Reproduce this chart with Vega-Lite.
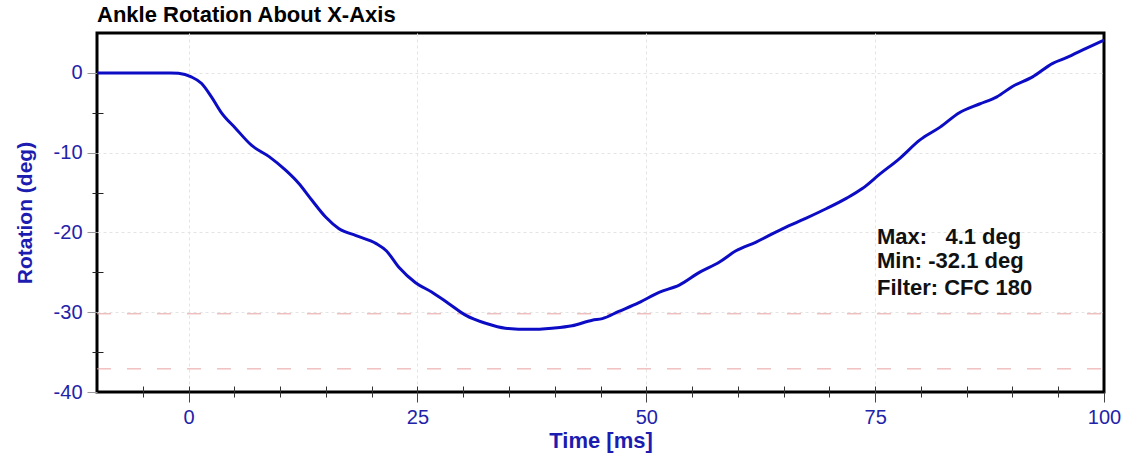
{
  "$schema": "https://vega.github.io/schema/vega-lite/v6.json",
  "width": 1007,
  "height": 359,
  "autosize": "none",
  "padding": {"left": 97, "top": 33, "right": 25, "bottom": 67},
  "background": "white",
  "config": {
    "view": {"stroke": "black", "strokeWidth": 3},
    "font": "Liberation Sans"
  },
  "title": {
    "text": "Ankle Rotation About X-Axis",
    "anchor": "start",
    "frame": "group",
    "font": "Liberation Sans",
    "fontSize": 22,
    "fontWeight": "bold",
    "color": "black",
    "offset": 6
  },
  "datasets": {
    "curve": [
      {"t": -10, "r": 0}, {"t": -6, "r": 0}, {"t": -2, "r": 0}, {"t": -1.1, "r": -0.05},
      {"t": 0.3, "r": -0.5}, {"t": 1.4, "r": -1.3}, {"t": 2.5, "r": -3}, {"t": 3.6, "r": -5},
      {"t": 5.1, "r": -6.9}, {"t": 6.9, "r": -9.1}, {"t": 8.8, "r": -10.5}, {"t": 10.6, "r": -12.2},
      {"t": 12, "r": -13.8}, {"t": 13.5, "r": -16}, {"t": 15, "r": -18.1}, {"t": 16.4, "r": -19.5},
      {"t": 18.3, "r": -20.4}, {"t": 20.5, "r": -21.4}, {"t": 21.6, "r": -22.3}, {"t": 23, "r": -24.4},
      {"t": 24.8, "r": -26.3}, {"t": 26.6, "r": -27.5}, {"t": 28.4, "r": -28.9}, {"t": 30.3, "r": -30.4},
      {"t": 32.5, "r": -31.4}, {"t": 34.6, "r": -32}, {"t": 37.2, "r": -32.15}, {"t": 39.7, "r": -32},
      {"t": 41.9, "r": -31.7}, {"t": 44.1, "r": -31}, {"t": 45.2, "r": -30.8}, {"t": 47, "r": -29.9},
      {"t": 49.2, "r": -28.8}, {"t": 51.4, "r": -27.5}, {"t": 53.6, "r": -26.6}, {"t": 55.8, "r": -25},
      {"t": 58, "r": -23.7}, {"t": 59.8, "r": -22.3}, {"t": 62, "r": -21.2}, {"t": 64.6, "r": -19.7},
      {"t": 67.1, "r": -18.4}, {"t": 69.7, "r": -17}, {"t": 71.9, "r": -15.7}, {"t": 73.6, "r": -14.5},
      {"t": 75.5, "r": -12.7}, {"t": 77.6, "r": -10.8}, {"t": 79.9, "r": -8.4}, {"t": 82.1, "r": -6.8},
      {"t": 84.2, "r": -5}, {"t": 86.4, "r": -3.9}, {"t": 88.3, "r": -3}, {"t": 90, "r": -1.7},
      {"t": 92.2, "r": -0.5}, {"t": 94.4, "r": 1.2}, {"t": 95.9, "r": 1.9}, {"t": 98.1, "r": 3.1},
      {"t": 100, "r": 4.1}
    ],
    "limits": [
      {"lo": -10, "hi": 100, "v": -30.2},
      {"lo": -10, "hi": 100, "v": -37.1}
    ],
    "notes": [
      {"tx": 75.2, "ty": -20.6, "label": "Max:\u00a0\u00a0 4.1 deg"},
      {"tx": 75.2, "ty": -23.6, "label": "Min: -32.1 deg"},
      {"tx": 75.2, "ty": -27.0, "label": "Filter: CFC 180"}
    ]
  },
  "layer": [
    {
      "data": {"name": "limits"},
      "mark": {"type": "rule", "color": "#e8a0a0", "strokeWidth": 1, "strokeDash": [14, 16]},
      "encoding": {
        "x": {
          "field": "lo", "type": "quantitative",
          "scale": {"domain": [-10, 100], "nice": false, "zero": false},
          "axis": {
            "orient": "bottom", "values": [-5, 0, 5, 10, 15, 20, 25, 30, 35, 40, 45, 50, 55, 60, 65, 70, 75, 80, 85, 90, 95],
            "tickSize": -6, "tickColor": "#333", "tickWidth": 1, "labels": false, "domain": false, "grid": false, "title": null
          }
        },
        "x2": {"field": "hi"},
        "y": {
          "field": "v", "type": "quantitative",
          "scale": {"domain": [-40, 5], "nice": false, "zero": false},
          "axis": {
            "orient": "left", "values": [-35, -25, -15, -5],
            "tickSize": -6, "tickColor": "#222", "tickWidth": 1, "labels": false, "domain": false, "grid": false, "title": null
          }
        }
      }
    },
    {
      "data": {"name": "curve"},
      "mark": {"type": "line", "color": "#0c0cc4", "strokeWidth": 3, "interpolate": "monotone"},
      "encoding": {
        "x": {
          "field": "t", "type": "quantitative",
          "axis": {
            "orient": "bottom", "values": [0, 25, 50, 75, 100],
            "title": "Time [ms]", "titleFont": "Liberation Sans", "titleFontSize": 22, "titleFontWeight": "bold", "titleColor": "#1c1cb0", "titlePadding": 3,
            "labelFont": "Liberation Sans", "labelFontSize": 20, "labelColor": "#2222aa", "labelPadding": 5, "labelFlush": false,
            "labelExpr": "toString(datum.value)",
            "tickSize": 10, "tickColor": "#444", "tickWidth": 1,
            "domain": false,
            "grid": true, "gridColor": "#e4e4e4", "gridDash": [3, 3], "gridWidth": 1,
            "gridOpacity": {"condition": {"test": "datum.value == 100", "value": 0}, "value": 1}
          }
        },
        "y": {
          "field": "r", "type": "quantitative",
          "axis": {
            "orient": "left", "values": [-40, -30, -20, -10, 0],
            "title": "Rotation (deg)", "titleFont": "Liberation Sans", "titleFontSize": 21, "titleFontWeight": "bold", "titleColor": "#1c1cb0", "titlePadding": 18,
            "labelFont": "Liberation Sans", "labelFontSize": 20, "labelColor": "#2222aa", "labelPadding": 5,
            "labelExpr": "toString(datum.value)",
            "tickSize": 10, "tickColor": "#999", "tickWidth": 1,
            "domain": false,
            "grid": true, "gridColor": "#e4e4e4", "gridDash": [3, 3], "gridWidth": 1,
            "gridOpacity": {"condition": {"test": "datum.value == -40", "value": 0}, "value": 1}
          }
        }
      }
    },
    {
      "data": {"name": "notes"},
      "mark": {"type": "text", "align": "left", "baseline": "middle", "font": "Liberation Sans", "fontSize": 22, "fontWeight": "bold", "color": "#111"},
      "encoding": {
        "x": {
          "field": "tx", "type": "quantitative",
          "axis": {
            "orient": "bottom", "values": [-5, 5, 10, 15, 20, 30, 35, 40, 45, 55, 60, 65, 70, 80, 85, 90, 95],
            "tickSize": 5, "tickColor": "#333", "tickWidth": 1, "labels": false, "domain": false, "grid": false, "title": null
          }
        },
        "y": {
          "field": "ty", "type": "quantitative",
          "axis": {
            "orient": "left", "values": [-35, -25, -15, -5],
            "tickSize": 5, "tickColor": "#222", "tickWidth": 1, "labels": false, "domain": false, "grid": false, "title": null
          }
        },
        "text": {"field": "label"}
      }
    }
  ],
  "resolve": {"axis": {"x": "independent", "y": "independent"}}
}
